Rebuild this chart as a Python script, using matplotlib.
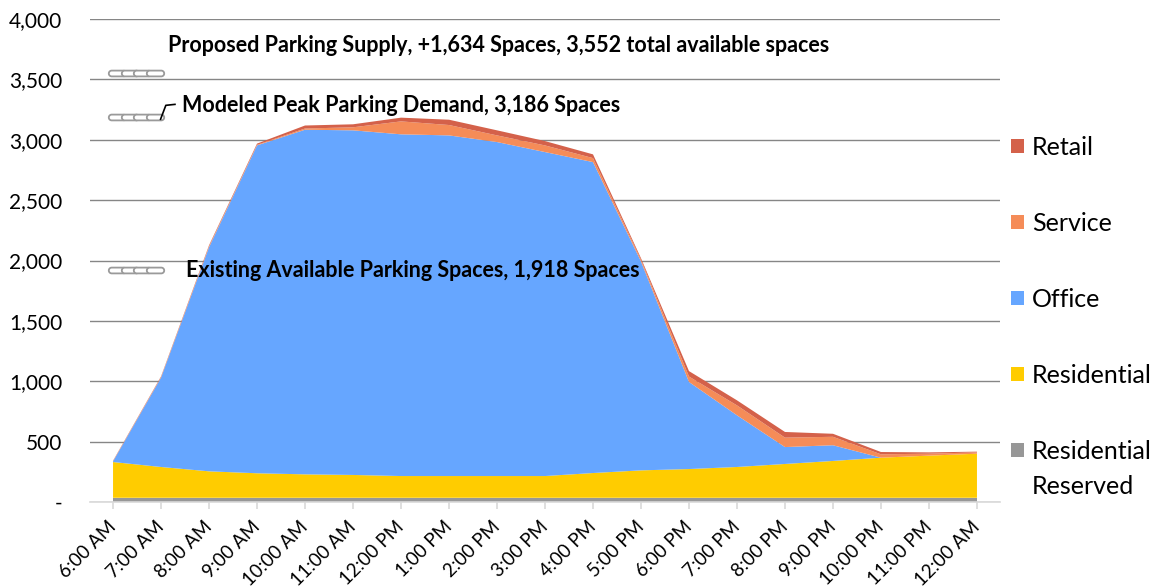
import matplotlib.pyplot as plt
import numpy as np
from matplotlib.path import Path
from matplotlib.ticker import FuncFormatter

plt.rcParams['font.family'] = ['Lato', 'DejaVu Sans']

hours = ['6:00 AM', '7:00 AM', '8:00 AM', '9:00 AM', '10:00 AM', '11:00 AM',
         '12:00 PM', '1:00 PM', '2:00 PM', '3:00 PM', '4:00 PM', '5:00 PM',
         '6:00 PM', '7:00 PM', '8:00 PM', '9:00 PM', '10:00 PM', '11:00 PM', '12:00 AM']

# parking demand by land use (spaces)
reserved = [35] * 19
residential = [296, 255, 219, 203, 194, 189, 180, 180, 180, 180, 205, 227, 238, 255, 280, 305, 332, 349, 365]
office = [5, 740, 1856, 2715, 2854, 2854, 2830, 2821, 2766, 2683, 2575, 1730, 721, 428, 140, 130, 0, 0, 0]
service = [3, 5, 8, 5, 10, 25, 107, 86, 55, 55, 33, 15, 45, 82, 78, 70, 28, 16, 11]
retail = [3, 5, 8, 10, 25, 25, 31, 44, 42, 36, 31, 12, 45, 42, 47, 25, 19, 11, 6]

labels = ['Residential', 'Residential', 'Office', 'Service', 'Retail']
colors = ['#979797', '#ffcc00', '#66a6ff', '#f58c58', '#d4614a']

# reference levels
supply = 3552
peak = 3186
existing = 1918
notes = ['Proposed Parking Supply, +1,634 Spaces, 3,552 total available spaces',
         'Modeled Peak Parking Demand, 3,186 Spaces',
         'Existing Available Parking Spaces, 1,918 Spaces']

fig = plt.figure(figsize=(11.59, 5.87), dpi=100)
ax = fig.add_axes([90 / 1159, (587 - 502) / 587, 910 / 1159, 483 / 587])

x = np.arange(len(hours))
ax.stackplot(x, reserved, residential, office, service, retail,
             colors=colors, labels=labels, linewidth=0)

ax.set_xlim(-0.48, len(hours) - 1 + 0.48)
ax.set_ylim(0, 4000)
ax.set_yticks(np.arange(0, 4001, 500))
ax.yaxis.set_major_formatter(FuncFormatter(lambda v, p: '-' if v == 0 else f'{v:,.0f}'))
ax.grid(axis='y', color='#868686', linewidth=1.0)
ax.set_axisbelow(True)
for s in ['top', 'right', 'left']:
    ax.spines[s].set_visible(False)
ax.spines['bottom'].set_color('#d9d9d9')
ax.spines['bottom'].set_linewidth(1.2)
ax.spines['bottom'].set_zorder(5)

ax.set_xticks(x)
ax.set_xticklabels(hours, rotation=45, ha='right', va='center', rotation_mode='anchor')
ax.tick_params(axis='x', length=5, color='#d9d9d9', width=1.2, pad=11, labelsize=13.5)
ax.tick_params(axis='y', length=0, pad=20, labelsize=15)

# chain-link markers for reference levels
t = np.linspace(-np.pi / 2, np.pi / 2, 12)
right = np.column_stack([1 + 0.5 * np.cos(t), 0.5 * np.sin(t)])
left = np.column_stack([-1 - 0.5 * np.cos(t), -0.5 * np.sin(t)])
link = Path(np.vstack([right, left, right[:1]]), closed=True)
link_x = [0.09, 0.35, 0.61, 0.87]
for level in [supply, peak, existing]:
    ax.plot(link_x, [level] * 4, linestyle='none', marker=link, markersize=12.5,
            markerfacecolor='white', markeredgecolor='#9a9a9a', markeredgewidth=1.3, zorder=6)
ax.plot([0.99, 1.1, 1.29], [3170, 3285, 3293], color='black', linewidth=1.2, zorder=6)

ax.text(1.15, 3781, notes[0], fontsize=15.5, fontweight='bold', va='center', zorder=7)
ax.text(1.44, 3285, notes[1], fontsize=15.5, fontweight='bold', va='center', zorder=7)
ax.text(1.52, existing, notes[2], fontsize=15.5, fontweight='bold', va='center', zorder=7)

h, l = ax.get_legend_handles_labels()
leg = ax.legend(h[::-1], l[::-1], loc='upper left', bbox_to_anchor=(1001 / 1159, 1 - 126 / 587),
                bbox_transform=fig.transFigure, frameon=False, fontsize=18,
                handlelength=0.52, handleheight=0.52, handletextpad=0.32,
                labelspacing=2.12, borderaxespad=0)

# second line of the last legend label
fig.canvas.draw()
bb = leg.get_texts()[-1].get_window_extent()
fig.text(bb.x0 / fig.bbox.width, (bb.y0 - 35) / fig.bbox.height, 'Reserved', fontsize=18, va='bottom')

fig.savefig('out.png', dpi=100)
